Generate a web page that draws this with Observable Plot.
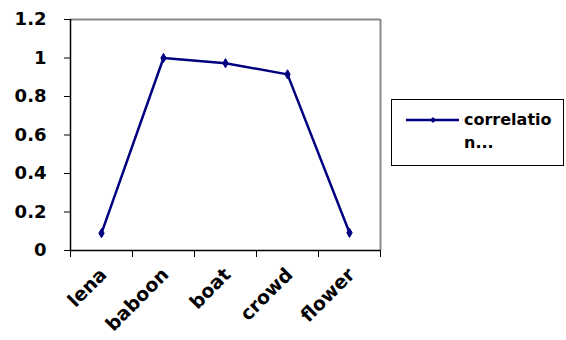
<!DOCTYPE html>
<html>
<head>
<meta charset="utf-8">
<script src="https://cdn.jsdelivr.net/npm/d3@7"></script>
<script src="https://cdn.jsdelivr.net/npm/@observablehq/plot@0.6"></script>
<style>
  html, body { margin: 0; padding: 0; background: #fff; }
  #wrap { position: relative; width: 566px; height: 340px; font-family: "DejaVu Sans", sans-serif; font-weight: 700; }
  #legend { position: absolute; left: 391px; top: 99px; width: 173px; height: 67px; border: 1px solid #000; box-sizing: border-box; background: #fff; }
  #legend svg { position: absolute; left: 14px; top: 13px; }
  #legend .lab { position: absolute; left: 72px; top: 8px; font-size: 16px; line-height: 23px; color: #000; }
</style>
</head>
<body>
<div id="wrap"><div id="legend"></div></div>
<script>
// Images and their correlation values
const categories = ["lena", "baboon", "boat", "crowd", "flower"];
const correlation = [0.09, 1.0, 0.973, 0.915, 0.092];
const yTicks = [0, 0.2, 0.4, 0.6, 0.8, 1, 1.2];
const seriesName = "correlation...";

const navy = "#000080";
const data = categories.map((name, i) => ({name, pos: i + 0.5, value: correlation[i]}));

const chart = Plot.plot({
  width: 566,
  height: 340,
  marginLeft: 70,
  marginRight: 186,
  marginTop: 19,
  marginBottom: 90,
  style: {fontFamily: "DejaVu Sans, sans-serif", fontWeight: "700", fontSize: "18px", color: "#000", background: "transparent"},
  x: {domain: [0, categories.length]},
  y: {domain: [0, 1.2]},
  marks: [
    // plot-area border (top and right)
    Plot.ruleY([1.2], {stroke: "#888", strokeWidth: 2}),
    Plot.ruleX([categories.length], {stroke: "#888", strokeWidth: 2}),
    // axis lines
    Plot.ruleX([0], {stroke: "#000", strokeWidth: 1.5}),
    Plot.ruleY([0], {stroke: "#000", strokeWidth: 1.5}),
    Plot.axisY({ticks: yTicks, tickSize: 6, tickPadding: 18, tickFormat: d => String(d), label: null,
      stroke: "#000", strokeOpacity: 1, fill: "#000"}),
    // category boundary ticks
    Plot.axisX({ticks: d3.range(categories.length + 1), tickSize: 7, tickFormat: () => "", label: null,
      stroke: "#000", strokeOpacity: 1}),
    // category names, rotated
    Plot.axisX({ticks: data.map(d => d.pos), tickSize: 0, tickPadding: 21, tickRotate: -45, fontSize: 19,
      tickFormat: p => categories[Math.round(p - 0.5)], label: null, fill: "#000", dx: 2}),
    Plot.line(data, {x: "pos", y: "value", stroke: navy, strokeWidth: 2.5}),
    Plot.dot(data, {x: "pos", y: "value", symbol: "diamond", r: 2.8, fill: navy, stroke: navy, strokeWidth: 1})
  ]
});
chart.style.position = "absolute";
chart.style.left = "0";
chart.style.top = "0";
document.getElementById("wrap").prepend(chart);

// legend
const legend = document.getElementById("legend");
const key = d3.create("svg").attr("width", 54).attr("height", 14);
key.append("line").attr("x1", 0).attr("x2", 53).attr("y1", 7).attr("y2", 7).attr("stroke", navy).attr("stroke-width", 2.5);
key.append("path").attr("d", d3.symbol(d3.symbolDiamond2, 24)()).attr("transform", "translate(27,7)").attr("fill", navy);
legend.append(key.node());
const lab = document.createElement("div");
lab.className = "lab";
lab.innerHTML = "correlatio<br>n...";
legend.append(lab);
</script>
</body>
</html>
